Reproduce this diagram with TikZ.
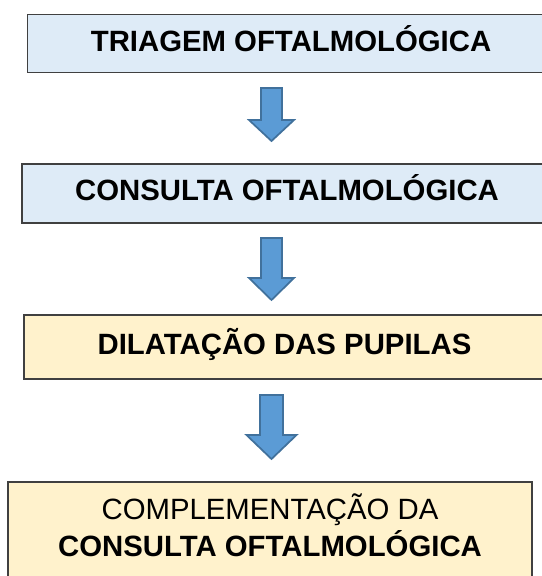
\documentclass[tikz,border=0pt]{standalone}
\usepackage{fontspec}
\setmainfont{Liberation Sans}
\usepackage{tikz}

\definecolor{azulclaro}{HTML}{DEEBF7}
\definecolor{amarelo}{HTML}{FFF2CC}
\definecolor{borda}{HTML}{404040}
\definecolor{seta}{HTML}{5B9BD5}
\definecolor{setaborda}{HTML}{41719C}

\tikzset{
  caixa/.style={draw=borda, line width=1.1pt, inner sep=0pt,
    font=\fontsize{22}{27.75}\selectfont\bfseries,
    text height=15.75pt, text depth=4.5pt},
  seta/.style={fill=seta, draw=setaborda, line width=1.3pt, line join=miter}
}

\newcommand{\setabaixo}[6]{%
  \draw[seta] (#1-#2, #4) -- (#1+#2, #4) -- (#1+#2, #5) -- (#1+#3, #5)
    -- (#1, #6) -- (#1-#3, #5) -- (#1-#2, #5) -- cycle;}

\begin{document}
\begin{tikzpicture}[x=0.75pt, y=-0.75pt]
      \useasboundingbox (0, 0) rectangle (542, 576);
      \clip (0, 0) rectangle (542, 576);

      \node[caixa, fill=azulclaro, minimum width=395.25pt, minimum height=43.5pt] (triagem) at (291, 43.7) {TRIAGEM OFTALMOLÓGICA};
      \node[caixa, fill=azulclaro, minimum width=397.5pt, minimum height=44.25pt] (consulta) at (287, 193.3) {CONSULTA OFTALMOLÓGICA};
      \node[caixa, fill=amarelo, minimum width=390.75pt, minimum height=48pt] (dilatacao) at (284.5, 347) {DILATAÇÃO DAS PUPILAS};
      \node[caixa, fill=amarelo, minimum width=393pt, minimum height=105pt] (complemento) at (270, 552) {};

      \node[font=\fontsize{22}{27.75}\selectfont, anchor=base, inner sep=0pt] (compl1) at (270, 519) {COMPLEMENTAÇÃO DA};
      \node[font=\fontsize{22}{27.75}\selectfont\bfseries, anchor=base, inner sep=0pt] (compl2) at (270, 556) {CONSULTA OFTALMOLÓGICA};

      \setabaixo{271.5}{10.5}{22.5}{88}{120}{141}
      \setabaixo{271.5}{10.5}{22.5}{238}{278}{300}
      \setabaixo{271.5}{11.5}{25}{395}{435}{459}
    \end{tikzpicture}
\end{document}
